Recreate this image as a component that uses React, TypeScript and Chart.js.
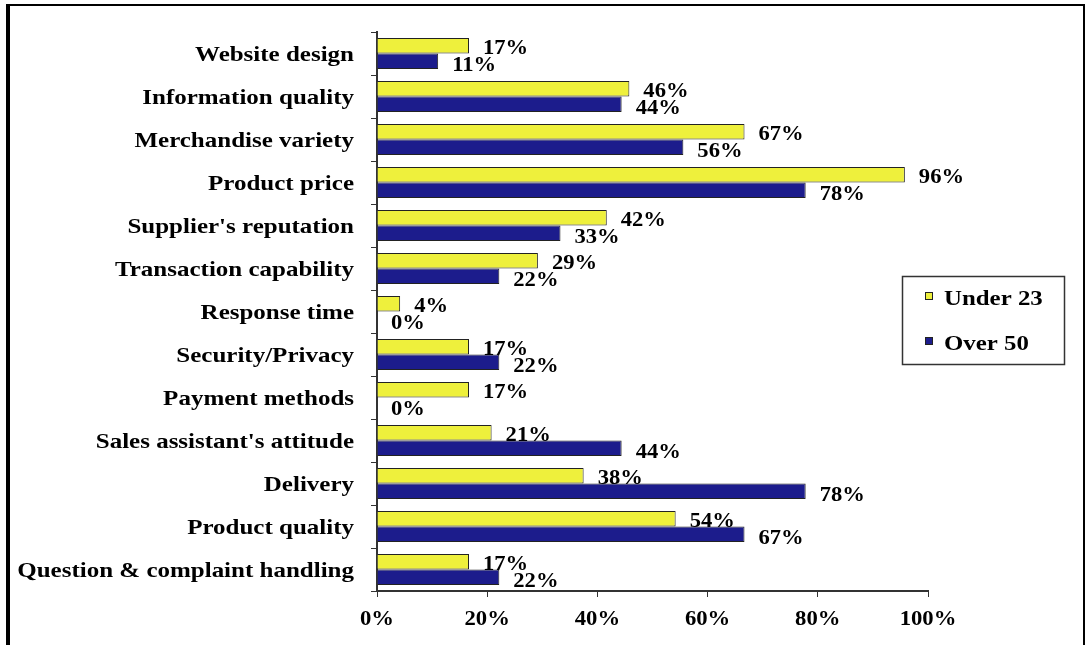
import React, { useEffect, useRef } from "react";
import { Chart, registerables } from "chart.js";

Chart.register(...registerables);

const categories = [
  "Website design",
  "Information quality",
  "Merchandise variety",
  "Product price",
  "Supplier's reputation",
  "Transaction capability",
  "Response time",
  "Security/Privacy",
  "Payment methods",
  "Sales assistant's attitude",
  "Delivery",
  "Product quality",
  "Question & complaint handling",
];

const under23 = [16.7, 45.8, 66.7, 95.8, 41.7, 29.2, 4.2, 16.7, 16.7, 20.8, 37.5, 54.2, 16.7];
const over50 = [11.1, 44.4, 55.6, 77.8, 33.3, 22.2, 0, 22.2, 0, 44.4, 77.8, 66.7, 22.2];

const seriesNames = ["Under 23", "Over 50"];
const seriesColors = ["#EEF03C", "#1C1C8C"];

const xTickStep = 20;
const xMin = 0;
const xMax = 100;

const FONT = '"Liberation Serif", "Times New Roman", serif';

function drawStretched(ctx: any, text: string, x: number, y: number, align: string, sx: number) {
  ctx.save();
  ctx.translate(x, y);
  ctx.scale(sx, 1);
  ctx.textAlign = align;
  ctx.fillText(text, 0, 0);
  ctx.restore();
}

const textPlugin = {
  id: "customText",
  afterDatasetsDraw(chart: any) {
    const ctx = chart.ctx;
    ctx.save();
    ctx.fillStyle = "#000";
    ctx.textBaseline = "alphabetic";

    // category labels
    const yScale = chart.scales.y;
    ctx.font = `bold 21px ${FONT}`;
    categories.forEach((c, i) => {
      const cy = yScale.getPixelForValue(i);
      drawStretched(ctx, c, yScale.right - 23, cy + 7, "right", 1.19);
    });

    // value labels
    ctx.font = `bold 20px ${FONT}`;
    const offsets = [8, 10];
    chart.data.datasets.forEach((ds: any, i: number) => {
      const meta = chart.getDatasetMeta(i);
      meta.data.forEach((el: any, j: number) => {
        const v = ds.data[j];
        drawStretched(ctx, Math.round(v) + "%", el.x + 14, el.y + offsets[i], "left", 1.13);
      });
    });

    // x tick labels
    const xScale = chart.scales.x;
    ctx.font = `bold 21px ${FONT}`;
    for (let v = xMin; v <= xMax; v += xTickStep) {
      drawStretched(ctx, v + "%", xScale.getPixelForValue(v), xScale.top + 34, "center", 1.08);
    }
    ctx.restore();
  },
  afterDraw(chart: any) {
    const ctx = chart.ctx;
    ctx.save();
    ctx.strokeStyle = "#333";
    ctx.lineWidth = 1.5;
    ctx.strokeRect(902.5, 276.5, 162, 88);
    ctx.font = `bold 22px ${FONT}`;
    ctx.textBaseline = "alphabetic";
    const rows = [305, 350];
    seriesNames.forEach((name, i) => {
      const y = rows[i];
      ctx.fillStyle = seriesColors[i];
      ctx.fillRect(925, y - 13, 8, 8);
      ctx.strokeStyle = "#222";
      ctx.lineWidth = 1;
      ctx.strokeRect(925.5, y - 12.5, 7, 7);
      ctx.fillStyle = "#000";
      drawStretched(ctx, name, 944, y, "left", 1.13);
    });
    ctx.restore();
  },
};

export default function App() {
  const canvasRef = useRef<HTMLCanvasElement | null>(null);

  useEffect(() => {
    if (!canvasRef.current) return;
    const chart = new Chart(canvasRef.current, {
      type: "bar",
      data: {
        labels: categories,
        datasets: [
          {
            label: seriesNames[0],
            data: under23,
            backgroundColor: seriesColors[0],
            borderColor: "#222",
            borderWidth: 1,
            categoryPercentage: 0.72,
            barPercentage: 1,
          },
          {
            label: seriesNames[1],
            data: over50,
            backgroundColor: seriesColors[1],
            borderColor: "#222",
            borderWidth: 1,
            categoryPercentage: 0.72,
            barPercentage: 1,
          },
        ],
      },
      options: {
        indexAxis: "y",
        animation: false,
        responsive: true,
        maintainAspectRatio: false,
        layout: { padding: { top: 32, right: 159, left: 0, bottom: 0 } },
        plugins: {
          legend: { display: false },
          tooltip: { enabled: false },
        },
        scales: {
          x: {
            min: xMin,
            max: xMax,
            ticks: {
              stepSize: xTickStep,
              callback: (v: any) => v + "%",
              color: "rgba(0,0,0,0)",
              font: { family: FONT, size: 21, weight: "bold" },
              padding: 6,
            },
            grid: { drawOnChartArea: false, tickLength: 6, color: "#333" },
            border: { display: true, color: "#333", width: 2 },
            afterFit: (s: any) => {
              s.height = 54;
            },
          },
          y: {
            offset: true,
            ticks: {
              color: "rgba(0,0,0,0)",
              font: { family: FONT, size: 20, weight: "bold" },
              padding: 16,
              autoSkip: false,
            },
            grid: { offset: true, drawOnChartArea: false, tickLength: 6, color: "#333" },
            border: { display: true, color: "#333", width: 2 },
            afterFit: (s: any) => {
              s.width = 377;
            },
          },
        },
      },
      plugins: [textPlugin],
    });
    return () => chart.destroy();
  }, []);

  return (
    <div style={{ position: "fixed", left: 0, top: 0, width: 1087, height: 645, background: "#fff", overflow: "hidden" }}>
      <canvas ref={canvasRef} style={{ width: "100%", height: "100%" }} />
      <div
        style={{
          position: "absolute",
          left: 6,
          top: 4,
          width: 1079,
          height: 800,
          boxSizing: "border-box",
          borderLeft: "4px solid #000",
          borderTop: "2px solid #000",
          borderRight: "2px solid #000",
          pointerEvents: "none",
        }}
      />
    </div>
  );
}
